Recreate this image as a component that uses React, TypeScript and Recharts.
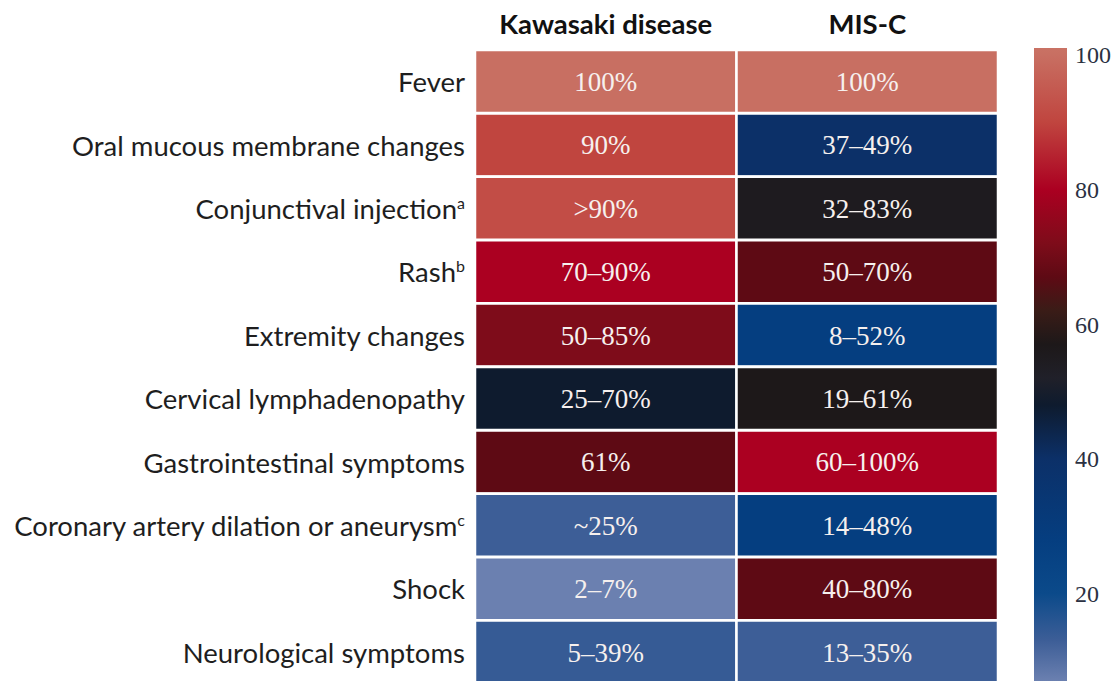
import { BarChart, Bar, XAxis, YAxis, Cell, LabelList } from "recharts";

// rows of the table, top to bottom
const symptoms = [
  "Fever",
  "Oral mucous membrane changes",
  "Conjunctival injection",
  "Rash",
  "Extremity changes",
  "Cervical lymphadenopathy",
  "Gastrointestinal symptoms",
  "Coronary artery dilation or aneurysm",
  "Shock",
  "Neurological symptoms",
];
const footnotes = ["", "", "a", "b", "", "", "", "c", "", ""];

const columns = ["Kawasaki disease", "MIS-C"];

const kawasakiLabels = ["100%", "90%", ">90%", "70–90%", "50–85%", "25–70%", "61%", "~25%", "2–7%", "5–39%"];
const miscLabels = ["100%", "37–49%", "32–83%", "50–70%", "8–52%", "19–61%", "60–100%", "14–48%", "40–80%", "13–35%"];

// colour value of each cell, read against the colour bar
const kawasakiScores = [100, 90, 92, 80, 72, 48, 67, 13, 7, 14];
const miscScores = [100, 40, 55, 67, 28, 57, 80, 28, 67, 13];

const scaleRange = [7, 101];
const scaleTicks = [20, 40, 60, 80, 100];

// colour ramp of the scale bar (value -> colour)
const rampStops: [number, string][] = [
  [101, "#c97264"],
  [100, "#c86f62"],
  [90, "#c0453f"],
  [80, "#ab0021"],
  [72, "#7e0c1a"],
  [67, "#5e0a14"],
  [62, "#3a1c17"],
  [57, "#1d1819"],
  [52, "#202029"],
  [48, "#0e1b2e"],
  [40, "#0c3068"],
  [28, "#053e80"],
  [20, "#0b4a8a"],
  [13, "#3d5e97"],
  [7, "#6b80b0"],
];

const hex = (c: string) => [1, 3, 5].map((i) => parseInt(c.slice(i, i + 2), 16));

function rampColor(v: number) {
  for (let i = 0; i < rampStops.length - 1; i++) {
    const [hi, ch] = rampStops[i];
    const [lo, cl] = rampStops[i + 1];
    if (v <= hi && v >= lo) {
      const t = hi === lo ? 0 : (v - lo) / (hi - lo);
      const a = hex(cl);
      const b = hex(ch);
      const m = a.map((x, k) => Math.round(x + (b[k] - x) * t));
      return `rgb(${m[0]},${m[1]},${m[2]})`;
    }
  }
  return v > rampStops[0][0] ? rampStops[0][1] : rampStops[rampStops.length - 1][1];
}

const rows = symptoms.map((s, i) => ({
  symptom: s,
  kawasaki: 1,
  misc: 1,
  kLabel: kawasakiLabels[i],
  mLabel: miscLabels[i],
}));

const scaleData = [{ name: "scale", range: scaleRange }];

const RowTick = (props: any) => {
  const { x, y, payload } = props;
  const i = symptoms.indexOf(payload.value);
  return (
    <text
      x={x}
      y={y}
      textAnchor="end"
      dominantBaseline="central"
      fontFamily="Lato"
      fontSize={27.5}
      fill="#1e1e1e"
    >
      {payload.value}
      {footnotes[i] ? (
        <tspan dy={-7} fontSize={16}>
          {footnotes[i]}
        </tspan>
      ) : null}
    </text>
  );
};

const HeaderTick = (props: any) => {
  const { x, payload } = props;
  const label = columns[Math.floor(payload.value)];
  return (
    <text x={x} y={34} textAnchor="middle" fontFamily="Lato" fontWeight={700} fontSize={27.5} fill="#111">
      {label}
    </text>
  );
};

const cellText = {
  fill: "#f6f0ee",
  fontFamily: "Liberation Serif",
  fontSize: 27,
};

export default function App() {
  const span = scaleRange[1] - scaleRange[0];
  return (
    <div
      style={{
        position: "absolute",
        left: 0,
        top: 0,
        width: 1114,
        height: 681,
        overflow: "hidden",
        background: "#fff",
      }}
    >
      <svg width={0} height={0} style={{ position: "absolute" }}>
        <defs>
          <linearGradient id="ramp" x1="0" y1="0" x2="0" y2="1">
            {rampStops.map(([v, c]) => (
              <stop key={v} offset={(scaleRange[1] - v) / span} stopColor={c} />
            ))}
          </linearGradient>
        </defs>
      </svg>

      <div style={{ position: "absolute", left: 0, top: 0 }}>
        <BarChart
          width={1000}
          height={690}
          data={rows}
          layout="vertical"
          margin={{ top: 20, right: 2, bottom: 6, left: 0 }}
          barCategoryGap={0}
        >
          <XAxis
            type="number"
            domain={[0, 2]}
            ticks={[0.5, 1.5]}
            orientation="top"
            height={30}
            axisLine={false}
            tickLine={false}
            tick={<HeaderTick />}
            interval={0}
          />
          <YAxis
            type="category"
            dataKey="symptom"
            width={475}
            axisLine={false}
            tickLine={false}
            tickMargin={4}
            tick={<RowTick />}
            interval={0}
          />
          <Bar dataKey="kawasaki" stackId="t" isAnimationActive={false}>
            {rows.map((r, i) => (
              <Cell key={r.symptom} fill={rampColor(kawasakiScores[i])} stroke="#fff" strokeWidth={2.5} />
            ))}
            <LabelList dataKey="kLabel" position="center" style={cellText} />
          </Bar>
          <Bar dataKey="misc" stackId="t" isAnimationActive={false}>
            {rows.map((r, i) => (
              <Cell key={r.symptom} fill={rampColor(miscScores[i])} stroke="#fff" strokeWidth={2.5} />
            ))}
            <LabelList dataKey="mLabel" position="center" style={cellText} />
          </Bar>
        </BarChart>
      </div>

      <div style={{ position: "absolute", left: 1034, top: 0 }}>
        <BarChart
          width={80}
          height={681}
          data={scaleData}
          margin={{ top: 48, right: 0, bottom: 0, left: 0 }}
          barCategoryGap={0}
        >
          <XAxis dataKey="name" hide />
          <YAxis
            type="number"
            orientation="right"
            domain={scaleRange}
            ticks={scaleTicks}
            width={47}
            axisLine={false}
            tickLine={false}
            tickMargin={2}
            allowDataOverflow
            tick={{ fill: "#2b3142", fontFamily: "Liberation Serif", fontSize: 24 }}
          />
          <Bar dataKey="range" fill="url(#ramp)" isAnimationActive={false} />
        </BarChart>
      </div>
    </div>
  );
}
